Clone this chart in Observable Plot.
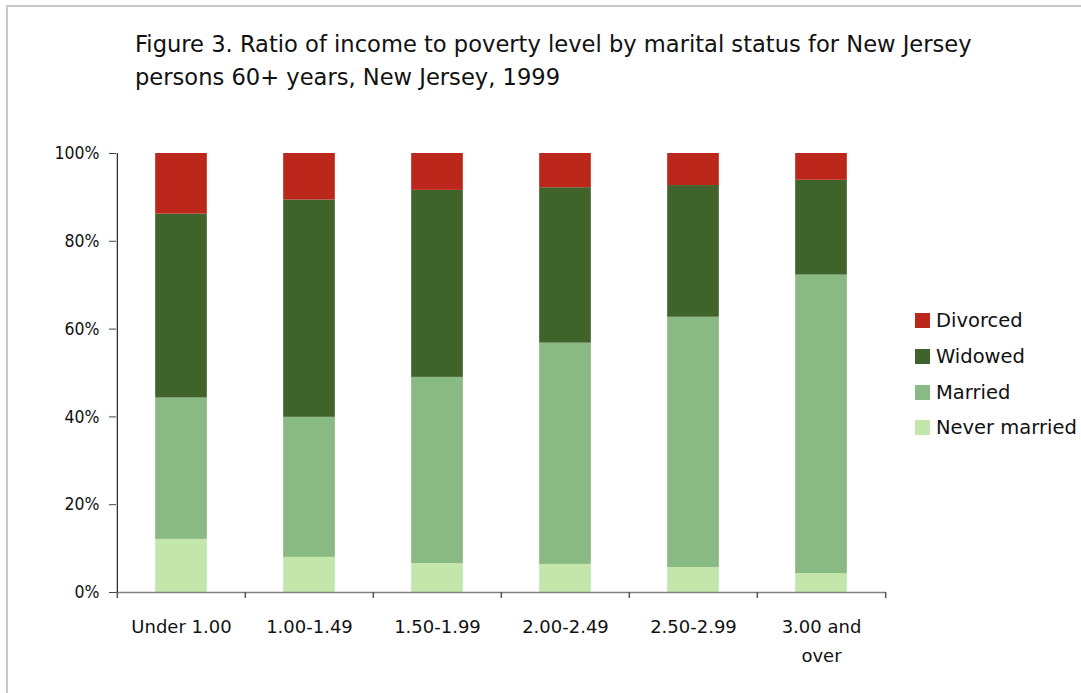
<!DOCTYPE html>
<html>
<head>
<meta charset="utf-8">
<script src="https://cdn.jsdelivr.net/npm/d3@7"></script>
<script src="https://cdn.jsdelivr.net/npm/@observablehq/plot@0.6"></script>
<style>
  html, body { margin: 0; padding: 0; background: #fff; }
  #wrap { position: relative; width: 1081px; height: 693px; overflow: hidden; font-family: "DejaVu Sans", sans-serif; color: #111; }
  #frame { position: absolute; left: 6px; top: 5px; width: 1200px; height: 800px; border-top: 2px solid #c8c8c8; border-left: 2px solid #c8c8c8; }
  #title { position: absolute; left: 135px; top: 28px; font-size: 22.6px; line-height: 33px; white-space: nowrap; }
  #legend { position: absolute; left: 915px; top: 303px; font-size: 19.5px; }
  .item { display: flex; align-items: center; height: 35.7px; white-space: nowrap; }
  .sw { width: 15px; height: 15px; margin-right: 6px; }
  #chart { position: absolute; left: 0; top: 0; }
</style>
</head>
<body>
<div id="wrap">
  <div id="frame"></div>
  <div id="chart"></div>
  <div id="title">Figure 3. Ratio of income to poverty level by marital status for New Jersey<br>persons 60+ years, New Jersey, 1999</div>
  <div id="legend"></div>
</div>
<script>
const categories = ["Under 1.00", "1.00-1.49", "1.50-1.99", "2.00-2.49", "2.50-2.99", "3.00 and over"];
const tickLabels = ["Under 1.00", "1.00-1.49", "1.50-1.99", "2.00-2.49", "2.50-2.99", "3.00 and\nover"];
const seriesNames = ["Never married", "Married", "Widowed", "Divorced"];
const seriesColors = ["#c4e6aa", "#89ba83", "#40632b", "#bb281b"];
const neverMarried = [12.1, 8.0, 6.6, 6.4, 5.7, 4.3];
const married = [32.2, 31.9, 42.4, 50.4, 57.0, 68.0];
const widowed = [41.9, 49.5, 42.6, 35.4, 30.0, 21.6];
const divorced = [13.8, 10.6, 8.4, 7.8, 7.3, 6.1];
const yTicks = [0, 20, 40, 60, 80, 100];

const seriesValues = [neverMarried, married, widowed, divorced];
const rows = [];
seriesNames.forEach((s, si) => categories.forEach((c, ci) => rows.push({category: c, status: s, value: seriesValues[si][ci]})));

const W = 1081, H = 693;
const mL = 116, mR = 195, mT = 153, mB = 101;
const step = (W - mL - mR) / categories.length;
const barW = 52;
const inset = (step - barW) / 2;
const labelOf = new Map(categories.map((c, i) => [c, tickLabels[i]]));
const last = categories[categories.length - 1];

const chart = Plot.plot({
  width: W, height: H,
  marginLeft: mL, marginRight: mR, marginTop: mT, marginBottom: mB,
  style: {fontFamily: '"DejaVu Sans", sans-serif', fontSize: "17.5px", color: "#111", background: "transparent"},
  x: {domain: categories, padding: 0, label: null},
  y: {domain: [0, 100], label: null},
  color: {domain: seriesNames, range: seriesColors},
  marks: [
    Plot.barY(rows, Plot.stackY({order: seriesNames}, {x: "category", y: "value", z: "status", fill: "status", insetLeft: inset, insetRight: inset})),
    Plot.ruleY([0], {stroke: "#808080", strokeWidth: 1.5}),
    Plot.ruleX(categories, {x: d => d, dx: -step / 2, y1: 0, y2: 0, insetBottom: -6, stroke: "#555", strokeWidth: 1.5}),
    Plot.ruleX([last], {x: d => d, dx: step / 2, y1: 0, y2: 0, insetBottom: -6, stroke: "#555", strokeWidth: 1.5}),
    Plot.ruleX([categories[0]], {x: d => d, dx: -step / 2, y1: 0, y2: 100, stroke: "#222", strokeWidth: 1.2}),
    Plot.axisY({ticks: yTicks, tickFormat: d => d + "%", tickSize: 7, tickPadding: 10, stroke: "#444", fill: "#111", fontSize: 17.5, fontFamily: '"DejaVu Sans Condensed", "DejaVu Sans", sans-serif', label: null}),
    Plot.axisX({tickSize: 0, tickPadding: 20, tickFormat: d => labelOf.get(d), lineHeight: 1.62, fill: "#111", fontSize: 18, label: null})
  ]
});
document.getElementById("chart").appendChild(chart);

const legend = document.getElementById("legend");
[...seriesNames].reverse().forEach(s => {
  const item = document.createElement("div");
  item.className = "item";
  const sw = document.createElement("div");
  sw.className = "sw";
  sw.style.background = seriesColors[seriesNames.indexOf(s)];
  const t = document.createElement("span");
  t.textContent = s;
  item.appendChild(sw); item.appendChild(t);
  legend.appendChild(item);
});
</script>
</body>
</html>
